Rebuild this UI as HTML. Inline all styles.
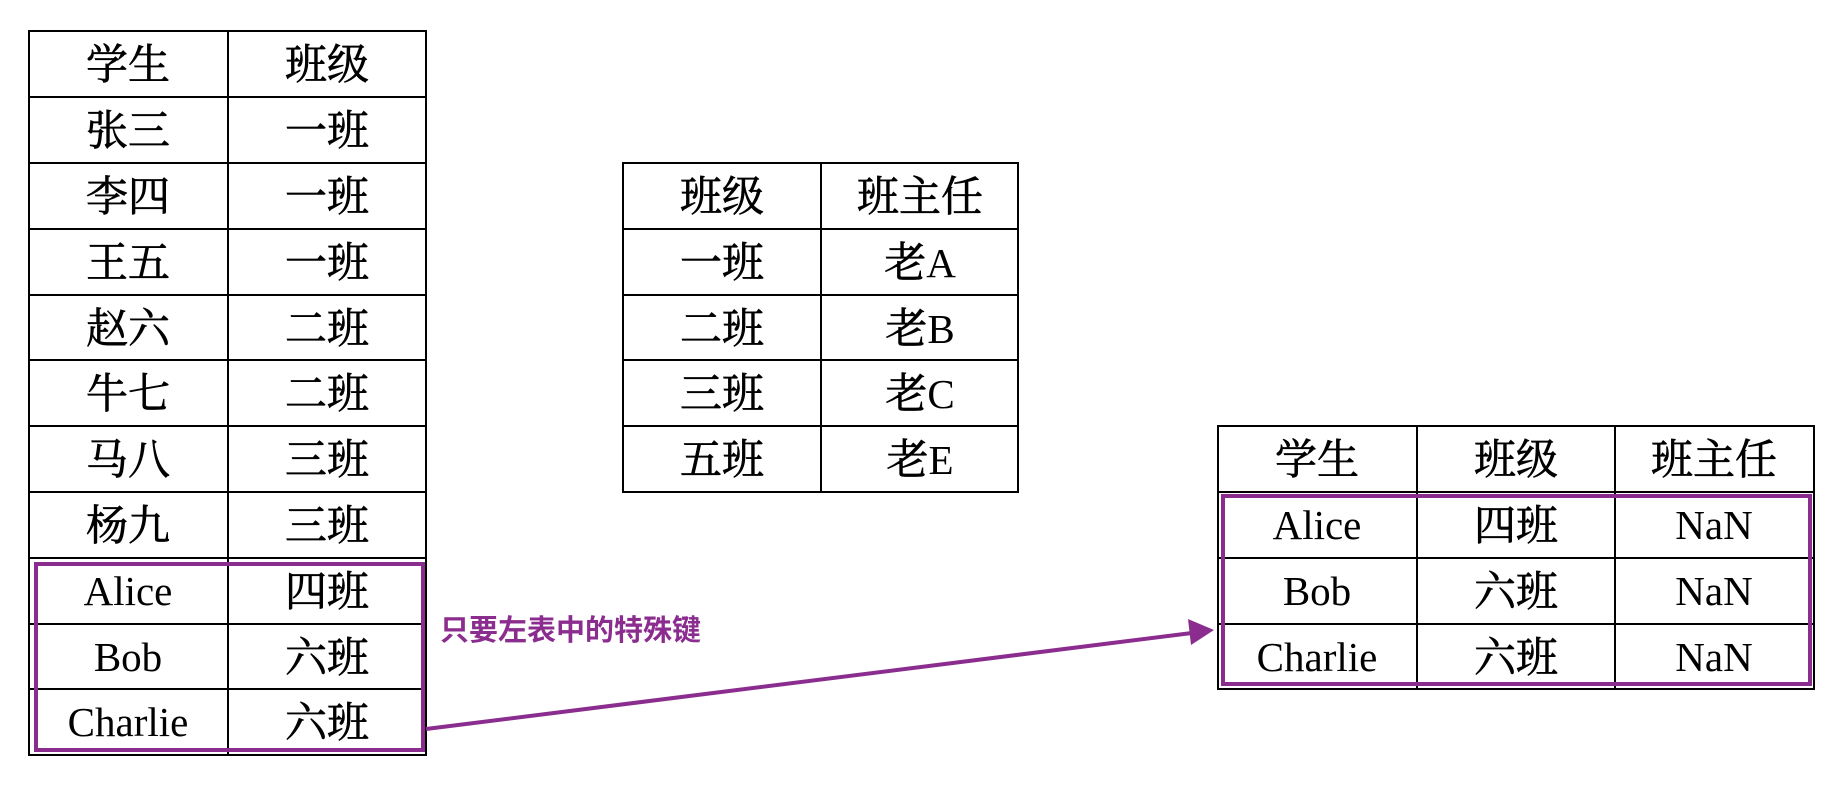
<!DOCTYPE html>
<html><head><meta charset="utf-8"><style>
html,body{margin:0;padding:0;background:#fff;}
svg text{font-family:"Liberation Serif","Noto Serif CJK SC",serif;font-size:42px;fill:#000;stroke:#000;stroke-width:0.7px;}
svg text.en, svg tspan.en{font-size:41px;stroke-width:0;}
svg text.lbl{font-family:"Liberation Sans","Noto Sans CJK SC",sans-serif;font-size:29px;fill:#8B2C8F;stroke:none;font-weight:bold;}
</style></head><body>
<svg width="1838" height="786" viewBox="0 0 1838 786" xmlns="http://www.w3.org/2000/svg">
<g stroke="#000" stroke-width="2" fill="none">
<rect x="29" y="31" width="397" height="724"/>
<line x1="228" y1="31" x2="228" y2="755"/>
<line x1="29" y1="97" x2="426" y2="97"/>
<line x1="29" y1="163" x2="426" y2="163"/>
<line x1="29" y1="229" x2="426" y2="229"/>
<line x1="29" y1="295" x2="426" y2="295"/>
<line x1="29" y1="360" x2="426" y2="360"/>
<line x1="29" y1="426" x2="426" y2="426"/>
<line x1="29" y1="492" x2="426" y2="492"/>
<line x1="29" y1="558" x2="426" y2="558"/>
<line x1="29" y1="624" x2="426" y2="624"/>
<line x1="29" y1="689" x2="426" y2="689"/>
<rect x="623" y="163" width="395" height="329"/>
<line x1="821" y1="163" x2="821" y2="492"/>
<line x1="623" y1="229" x2="1018" y2="229"/>
<line x1="623" y1="295" x2="1018" y2="295"/>
<line x1="623" y1="360" x2="1018" y2="360"/>
<line x1="623" y1="426" x2="1018" y2="426"/>
<rect x="1218" y="426" width="596" height="263"/>
<line x1="1417" y1="426" x2="1417" y2="689"/>
<line x1="1615" y1="426" x2="1615" y2="689"/>
<line x1="1218" y1="492" x2="1814" y2="492"/>
<line x1="1218" y1="558" x2="1814" y2="558"/>
<line x1="1218" y1="624" x2="1814" y2="624"/>
</g>
<g stroke="#8B2C8F" stroke-width="4" fill="none">
<rect x="36" y="564" width="387" height="186"/>
<rect x="1223" y="496" width="587" height="188"/>
<line x1="426" y1="729" x2="1192" y2="633"/>
</g>
<polygon points="1214,630 1188,619 1191,645" fill="#8B2C8F"/>
<text class="lbl" x="440" y="640">只要左表中的特殊键</text>
<g text-anchor="middle">
<text x="128" y="79">学生</text><text x="327" y="79">班级</text>
<text x="128" y="145">张三</text><text x="327" y="145">一班</text>
<text x="128" y="211">李四</text><text x="327" y="211">一班</text>
<text x="128" y="277">王五</text><text x="327" y="277">一班</text>
<text x="128" y="343">赵六</text><text x="327" y="343">二班</text>
<text x="128" y="408">牛七</text><text x="327" y="408">二班</text>
<text x="128" y="474">马八</text><text x="327" y="474">三班</text>
<text x="128" y="540">杨九</text><text x="327" y="540">三班</text>
<text class="en" x="128" y="605">Alice</text><text x="327" y="606">四班</text>
<text class="en" x="128" y="671">Bob</text><text x="327" y="672">六班</text>
<text class="en" x="128" y="736">Charlie</text><text x="327" y="737">六班</text>

<text x="722" y="211">班级</text><text x="920" y="211">班主任</text>
<text x="722" y="277">一班</text><text x="920" y="277">老<tspan class="en">A</tspan></text>
<text x="722" y="343">二班</text><text x="920" y="343">老<tspan class="en">B</tspan></text>
<text x="722" y="408">三班</text><text x="920" y="408">老<tspan class="en">C</tspan></text>
<text x="722" y="474">五班</text><text x="920" y="474">老<tspan class="en">E</tspan></text>

<text x="1317" y="474">学生</text><text x="1516" y="474">班级</text><text x="1714" y="474">班主任</text>
<text class="en" x="1317" y="539">Alice</text><text x="1516" y="540">四班</text><text class="en" x="1714" y="539">NaN</text>
<text class="en" x="1317" y="605">Bob</text><text x="1516" y="606">六班</text><text class="en" x="1714" y="605">NaN</text>
<text class="en" x="1317" y="671">Charlie</text><text x="1516" y="672">六班</text><text class="en" x="1714" y="671">NaN</text>
</g>
</svg>
</body></html>
